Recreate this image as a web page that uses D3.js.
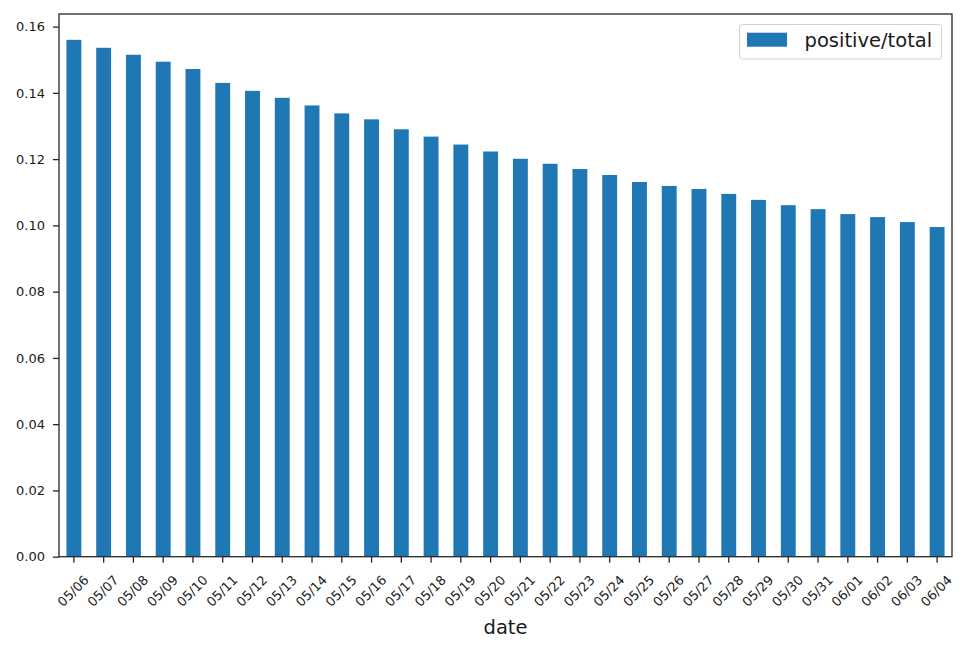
<!DOCTYPE html>
<html><head><meta charset="utf-8">
<script src="https://cdn.jsdelivr.net/npm/d3@7"></script>
<style>body{margin:0;background:#fff}svg{display:block}text{font-family:"DejaVu Sans",sans-serif;fill:#1a1a1a}</style>
</head><body><svg id="c" width="970" height="651"></svg>
<script>
const dates = ["05/06","05/07","05/08","05/09","05/10","05/11","05/12","05/13","05/14","05/15","05/16","05/17","05/18","05/19","05/20","05/21","05/22","05/23","05/24","05/25","05/26","05/27","05/28","05/29","05/30","05/31","06/01","06/02","06/03","06/04"];
const ratio = [0.1560,0.1536,0.1515,0.1494,0.1472,0.1430,0.1406,0.1385,0.1362,0.1338,0.1320,0.1290,0.1268,0.1244,0.1223,0.1201,0.1186,0.1170,0.1152,0.1131,0.1119,0.1110,0.1095,0.1077,0.1061,0.1049,0.1034,0.1025,0.1010,0.0995];
const yTicks = [0.00,0.02,0.04,0.06,0.08,0.10,0.12,0.14,0.16];
const seriesName = "positive/total";
const xLabel = "date";

const L=59, R=952, T=14, B=556.7;
const svg = d3.select("#c");
const x = d3.scaleBand().domain(dates).range([L,R]).paddingInner(0.5).paddingOuter(0.25);
const y = d3.scaleLinear().domain([0,0.1638]).range([B,T]);

svg.append("g").selectAll("rect").data(dates).join("rect")
  .attr("x",d=>x(d)).attr("width",x.bandwidth())
  .attr("y",(d,i)=>y(ratio[i])).attr("height",(d,i)=>B-y(ratio[i]))
  .attr("fill","#1f77b4");

const ya = svg.append("g").attr("transform",`translate(${L},0)`)
  .call(d3.axisLeft(y).tickValues(yTicks).tickFormat(d3.format(".2f")).tickSize(6).tickPadding(8));
ya.select(".domain").remove();
ya.selectAll("line").attr("stroke","#262626").attr("stroke-width",1.3);
ya.selectAll("text").attr("font-size","13px").attr("fill","#1a1a1a").attr("font-family","DejaVu Sans");

const xa = svg.append("g").attr("transform",`translate(0,${B})`)
  .call(d3.axisBottom(x).tickSize(6).tickPadding(4));
xa.select(".domain").remove();
xa.selectAll("line").attr("stroke","#262626").attr("stroke-width",1.3);
xa.selectAll("text").attr("font-size","13px").attr("fill","#1a1a1a").attr("font-family","DejaVu Sans")
  .attr("text-anchor","middle").attr("dy",null).attr("y",0)
  .attr("transform","translate(0,35) rotate(-45)").attr("dominant-baseline","middle");

svg.append("rect").attr("x",L).attr("y",T).attr("width",R-L).attr("height",B-T)
  .attr("fill","none").attr("stroke","#262626").attr("stroke-width",1.3);

svg.append("text").attr("x",(L+R)/2).attr("y",633.5).attr("text-anchor","middle")
  .attr("font-size","19.5px").text(xLabel);

const lg = svg.append("g");
lg.append("rect").attr("x",739.5).attr("y",24.5).attr("width",202).attr("height",34.5).attr("rx",3)
  .attr("fill","#fff").attr("fill-opacity",0.8).attr("stroke","#d0d0d0").attr("stroke-width",1);
lg.append("rect").attr("x",747).attr("y",32.7).attr("width",40).attr("height",14).attr("fill","#1f77b4");
lg.append("text").attr("x",804.5).attr("y",47).attr("font-size","19.5px").text(seriesName);
</script></body></html>
